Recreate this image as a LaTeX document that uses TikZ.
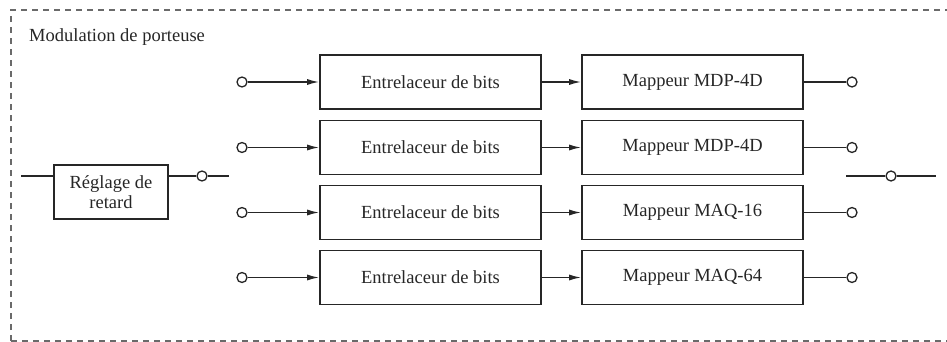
\documentclass[tikz,border=0pt]{standalone}
\usepackage{fontspec}
\setmainfont{Liberation Serif}
\usetikzlibrary{arrows.meta}
\definecolor{ink}{HTML}{262626}
\definecolor{frame}{HTML}{6A6A6A}
\begin{document}
\begin{tikzpicture}[x=1pt,y=-1pt,
  blk/.style={draw=ink,line width=1.6pt,minimum width=221pt,minimum height=54pt,inner sep=0pt,
    font=\fontsize{18.5}{21}\selectfont,text=ink},
  term/.style={circle,draw=ink,line width=1.3pt,minimum size=10pt,inner sep=0pt,fill=white},
  wire/.style={draw=ink,line width=1.5pt},
  arr/.style={wire,-{Latex[length=12pt,width=6pt]}},
  lbl/.style={font=\fontsize{18.5}{21}\selectfont,text=ink,inner sep=0pt}]
\useasboundingbox (0,0) rectangle (947,342);
\draw[frame,line width=1.5pt,dash pattern=on 6pt off 5pt] (11,341) -- (11,10) -- (947,10);
\draw[frame,line width=1.5pt,dash pattern=on 6pt off 5pt] (11,341) -- (947,341);
\node[lbl,anchor=west] (title) at (29,37) {Modulation de porteuse};
% rows
\foreach \i/\y/\m in {1/82/Mappeur MDP-4D,2/147.5/Mappeur MDP-4D,3/212.5/Mappeur MAQ-16,4/277.5/Mappeur MAQ-64}{
  \node[term] (in\i) at (242,\y) {};
  \node[blk] (e\i) at (430.5,\y) {Entrelaceur de bits};
  \node[blk] (m\i) at (692.5,\y) {\m};
  \node[term] (out\i) at (852,\y) {};
  \draw[arr] (in\i) -- (e\i);
  \draw[arr] (e\i) -- (m\i);
  \draw[wire] (m\i) -- (out\i);
}
% delay
\node[draw=ink,line width=1.6pt,minimum width=114pt,minimum height=54pt,inner sep=0pt,
  align=center,font=\fontsize{18.5}{20.5}\selectfont,text=ink] (d) at (111,192) {Réglage de\\retard};
\coordinate (dinL) at (21,176);
\coordinate (dinR) at (54,176);
\coordinate (doutL) at (168,176);
\node[term] (dc) at (202,176) {};
\coordinate (dend) at (229,176);
\draw[wire] (dinL) -- (dinR);
\draw[wire] (doutL) -- (dc) -- (dend);
% final output
\coordinate (fa) at (846,176);
\node[term] (fc) at (891,176) {};
\coordinate (fb) at (936,176);
\draw[wire] (fa) -- (fc) -- (fb);
\end{tikzpicture}
\end{document}
